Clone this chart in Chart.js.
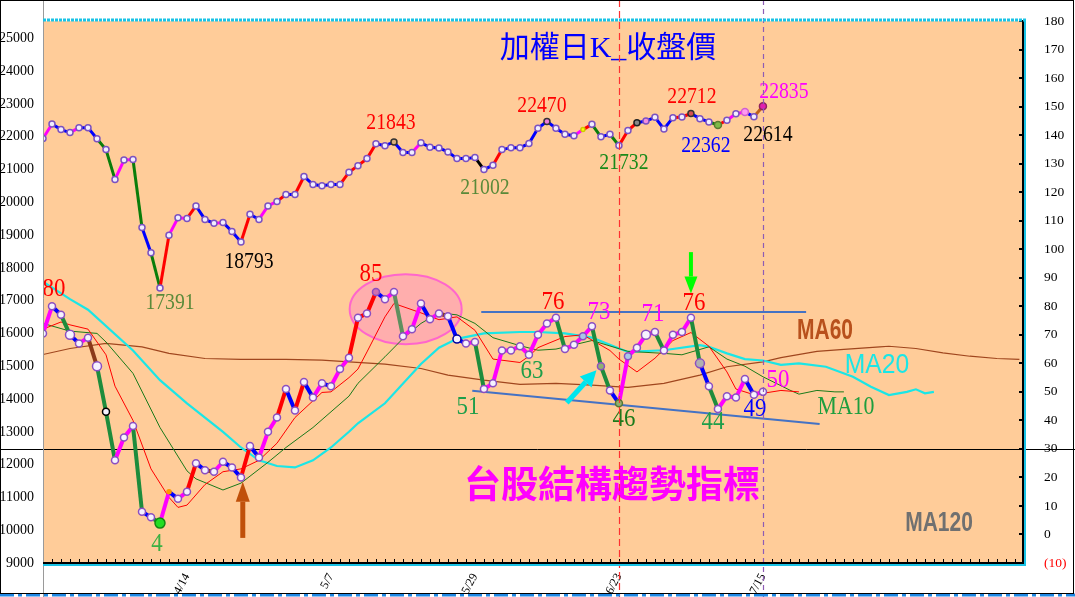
<!DOCTYPE html>
<html>
<head>
<meta charset="utf-8">
<script src="https://cdn.jsdelivr.net/npm/chart.js@4.4.1/dist/chart.umd.min.js"></script>
<style>
  body { margin: 0; background: #fff; }
  canvas { display: block; }
</style>
</head>
<body>
<canvas id="chart" width="1075" height="597"></canvas>
<script>
// TAIEX daily close, 3/19 .. 7/15 (one value per trading day)
const closes = [21950, 22390, 22220, 22130, 22280, 22280, 21940, 21610, 20700, 21290,
  21310, 19232, 18460, 17391, 19000, 19529, 19510, 19890, 19480, 19360,
  19390, 19110, 18793, 19640, 19480, 19890, 20030, 20240, 20240, 20790,
  20545, 20505, 20545, 20545, 20920, 21120, 21335, 21790, 21730, 21843,
  21520, 21520, 21820, 21680, 21660, 21540, 21335, 21335, 21370, 21002,
  21135, 21610, 21670, 21670, 21795, 22260, 22470, 22260, 22080, 22035,
  22220, 22380, 22000, 22080, 21732, 22190, 22430, 22480, 22595, 22240,
  22585, 22605, 22712, 22555, 22455, 22362, 22505, 22705, 22755, 22614,
  22930];

// structure trend indicator (right axis)
const trend = [70.5, 80, 77, 70, 67, 69, 59, 43, 26, 34,
  38, 8, 6, 4, 15, 12.5, 15, 25, 22.5, 22,
  25.5, 23.5, 20, 31, 27, 36, 41, 51, 43.5, 53.5,
  48, 53, 52, 58, 62, 76, 77.5, 85, 82.5, 85,
  69.5, 72, 81, 75.5, 77.5, 76.5, 68.5, 67, 67.5, 51,
  53, 64.5, 64.5, 66, 63, 70, 74, 76, 65, 66.5,
  69.5, 73, 59, 50.5, 46, 62.5, 65.5, 70, 71, 64.5,
  70, 71, 76, 60, 52, 44, 48.5, 48, 54.5, 49,
  50];

// moving averages of the indicator (read at the day index given)
const ma5Day = [0, 2, 3, 5, 7, 8, 10, 12, 14, 15, 16, 18, 20, 22, 24, 26, 28, 31, 32, 34,
  35, 36, 38, 39, 42, 44, 46, 48, 50, 53, 54, 55, 58, 60, 63, 64, 66, 68, 70, 72,
  74, 76, 77, 79, 82, 84];
const ma5Val = [72, 74.5, 73.5, 72, 63, 52, 40, 23, 13, 9.5, 10.3, 17.5, 22, 23, 26, 32, 41, 49.8, 50, 55,
  58, 64, 76.3, 81, 77.7, 75.3, 76.3, 71.6, 61.5, 60.3, 62.5, 65.5, 69.4, 70, 64.5, 61.5, 57, 61.8, 68, 70.8,
  66, 57, 51, 49, 50.5, 50];

const ma10Day = [0, 3, 6, 7, 10, 13, 16, 17, 20, 22, 25, 27, 30, 34, 35, 38, 40, 42, 44, 46,
  48, 50, 53, 55, 57, 61, 65, 69, 71, 74, 76, 78, 80, 83, 84, 86, 88, 89];
const ma10Val = [74, 71.3, 70.5, 67.5, 56.5, 37.5, 22.3, 19.5, 15.6, 18, 25.3, 30.5, 37.5, 48.5, 53, 62.3, 68.7, 74, 77.7, 77,
  74, 69, 66.2, 64.6, 65, 68, 64.2, 63.5, 63, 65.8, 61.5, 59, 55.3, 50.6, 49.2, 50.5, 50, 50];

const ma20Day = [0, 3, 5, 10, 13, 16, 20, 22, 24, 26, 28, 30, 32, 34, 35, 38, 42, 44, 46, 49,
  53, 55, 58, 61, 65, 69, 73, 74, 76, 78, 80, 82, 84, 87, 90, 92, 94, 96, 97, 98, 99];
const ma20Val = [88.6, 82.5, 78.8, 64.5, 54.1, 46, 36, 30.5, 26, 24, 23.5, 26, 30.5, 36, 39, 46, 59.8, 65.5, 68.6, 70.5,
  71, 71, 70.5, 69, 64, 64.6, 66.4, 65.8, 63.5, 61.5, 61, 59.5, 60, 58.8, 55.3, 51.8, 48.9, 50, 50.9, 49.5, 50];

const ma60Day = [0, 3, 7, 11, 14, 18, 22, 27, 31, 34, 38, 42, 45, 49, 53, 57, 61, 65, 69, 73,
  76, 80, 82, 86, 89, 93, 94, 97, 100, 103, 106, 108.5];
const ma60Val = [63.1, 65.2, 67, 65.8, 63.5, 61.7, 61.4, 61.4, 61.1, 60.5, 59.7, 58.2, 55.9, 54.1, 52.6, 53, 52.4, 51.6, 53, 55.9,
  58.8, 60.5, 62, 64.2, 64.9, 65.8, 66, 65.2, 63.7, 62.5, 61.7, 61.4];

// hand drawn channel lines
const topLineDay = [48.7, 84.8];
const topLineVal = [78, 78];
const lowLineDay = [47.7, 86.3];
const lowLineVal = [50.4, 38.7];

// axis ticks
const dateTickDay = [16, 32, 48, 64, 80];
const dateTickText = ["4/14", "5/7", "5/29", "6/23", "7/15"];
const priceTicks = [9000, 10000, 11000, 12000, 13000, 14000, 15000, 16000, 17000,
  18000, 19000, 20000, 21000, 22000, 23000, 24000, 25000];
const trendTicks = [-10, 0, 10, 20, 30, 40, 50, 60, 70, 80, 90, 100, 110, 120, 130, 140, 150, 160, 170, 180];

// colour of each segment (m magenta, b blue, g green, r red, k black, n brown, o olive)
const priceSeg = "mbbmbbggmm" + "gbgrmmrbbm" + "bbrbmmrbrb" + "bbbrrrrbbb" +
  "bmbbbbbbkb" + "rbbbbbbbbm" + "rgbgrrbbbb" + "rrbbgrmmbn";
const trendSeg = "mbgbmnggmm" + "gbgmbmrbnm" + "bbrbmmrbrb" + "mbmmrrrbmo" +
  "mmbmnbbmgm" + "mmmmmmmgmm" + "mggbmmmmgm" + "mmgbgmmmbm";

const priceColors = { m: "#FF00FF", b: "#0000FF", g: "#0A7D0A", r: "#FF0000", k: "#000000", n: "#C0601A" };
const trendColors = { m: "#FF00FF", b: "#0000FF", g: "#1E8C3C", r: "#FF0000", k: "#000000", n: "#8B3A1A", o: "#5F8F5F" };

function toPoints(days, vals) {
  return vals.map((v, i) => ({ x: days[i], y: v }));
}

function pointStyles(count, base, special) {
  const bg = [], bd = [], rad = [];
  for (let i = 0; i < count; i++) {
    const s = special[i] || {};
    bg.push(s.bg || base.bg);
    bd.push(s.bd || base.bd);
    rad.push(s.r || base.r);
  }
  return { bg, bd, rad };
}

const pricePts = pointStyles(closes.length, { bg: "#F2EEFF", bd: "#7B52C1", r: 3 }, {
  39: { bg: "#D9B07A", bd: "#333" }, 56: { bg: "#F07ADC", bd: "#333" },
  60: { bg: "#FFFF00", bd: "#CCCC00", r: 2 }, 66: { bg: "#888", bd: "#222" },
  67: { bg: "#F28FE0" }, 72: { bg: "#D85050", bd: "#333" },
  75: { bg: "#7DBA48", bd: "#5A7A30", r: 3.5 }, 78: { bg: "#FF99F0", bd: "#D060D0", r: 3.5 },
  80: { bg: "#E020B0", bd: "#902060", r: 3.5 }
});

const trendPts = pointStyles(trend.length, { bg: "#F6F2FF", bd: "#8B4FC1", r: 3.5 }, {
  3: { r: 4.5 }, 6: { r: 4.5 }, 7: { bd: "#000" }, 13: { bg: "#22DD22", bd: "#118811", r: 5 },
  14: { bg: "#FF9900", bd: "#FF9900", r: 2 }, 37: { bg: "#D070B0" }, 46: { bd: "#0000A0", r: 4 },
  60: { bg: "#A8C8E8" }, 62: { bg: "#90B070" }, 64: { bg: "#90B070", bd: "#557733" },
  65: { bg: "#A8C8E8" }, 67: { r: 4.5 }, 73: { bg: "#B0B0B0", r: 4.5 }
});

// text notes hung on points: [dataset, index, text, colour, dx, dy]
const notes = [
  [0, 13, "17391", "#5A8A3A", 10, 15], [0, 22, "18793", "#000000", 8, 20],
  [0, 39, "21843", "#FF0000", -3, -19], [0, 49, "21002", "#5A8A3A", 1, 18],
  [0, 56, "22470", "#FF0000", -5, -16], [0, 64, "21732", "#1A8A1A", 5, 17],
  [0, 72, "22712", "#FF0000", 1, -17], [0, 75, "22362", "#0000FF", -12, 21],
  [0, 79, "22614", "#000000", 14, 18], [0, 80, "22835", "#FF00FF", 21, -15],
  [1, 1, "80", "#FF0000", 2, -17], [1, 13, "4", "#3CB043", -3, 21],
  [1, 37, "85", "#FF0000", -5, -18], [1, 57, "76", "#FF0000", -3, -16],
  [1, 61, "73", "#FF00FF", 7, -14], [1, 68, "71", "#FF00FF", -2, -18],
  [1, 72, "76", "#FF0000", 3, -15], [1, 54, "63", "#1E9E4A", 3, 16],
  [1, 49, "51", "#1E9E4A", -16, 18], [1, 64, "46", "#1A7A1A", 5, 16],
  [1, 75, "44", "#1E9E4A", -5, 13], [1, 79, "49", "#0000FF", 1, 14],
  [1, 80, "50", "#FF00FF", 15, -12]
];

function drawText(ctx, s, x, y, font, color, sx) {
  ctx.save();
  ctx.translate(x, y);
  ctx.scale(sx || 1, 1);
  ctx.font = font;
  ctx.fillStyle = color;
  ctx.textAlign = "center";
  ctx.textBaseline = "middle";
  ctx.fillText(s, 0, 0);
  ctx.restore();
}

function drawArrow(ctx, x1, y1, x2, y2, color, w, hl, hw) {
  const a = Math.atan2(y2 - y1, x2 - x1);
  const bx = x2 - Math.cos(a) * hl, by = y2 - Math.sin(a) * hl;
  ctx.save();
  ctx.strokeStyle = color;
  ctx.fillStyle = color;
  ctx.lineWidth = w;
  ctx.beginPath();
  ctx.moveTo(x1, y1);
  ctx.lineTo(bx, by);
  ctx.stroke();
  ctx.beginPath();
  ctx.moveTo(x2, y2);
  ctx.lineTo(bx + Math.sin(a) * hw / 2, by - Math.cos(a) * hw / 2);
  ctx.lineTo(bx - Math.sin(a) * hw / 2, by + Math.cos(a) * hw / 2);
  ctx.closePath();
  ctx.fill();
  ctx.restore();
}

const decor = {
  id: "decor",
  beforeDraw(chart) {
    const { ctx, chartArea: a } = chart;
    ctx.save();
    ctx.fillStyle = "#FFFFFF";
    ctx.fillRect(0, 0, chart.width, chart.height);
    ctx.fillStyle = "#FFCC99";
    ctx.fillRect(a.left, a.top, a.right - a.left, a.bottom - a.top);
    ctx.restore();
  },
  beforeDatasetsDraw(chart) {
    const { ctx, chartArea: a, scales } = chart;
    const x = scales.x, y2 = scales.y2;
    ctx.save();
    // pink ellipse round the 85 top
    ctx.beginPath();
    ctx.ellipse(x.getPixelForValue(40.3), y2.getPixelForValue(79), 56, 35, 0, 0, Math.PI * 2);
    ctx.fillStyle = "rgba(255,150,190,0.55)";
    ctx.fill();
    ctx.strokeStyle = "#FF66CC";
    ctx.lineWidth = 2;
    ctx.stroke();
    // level 30 line across the whole picture
    const y30 = Math.round(y2.getPixelForValue(30)) + 0.5;
    ctx.beginPath();
    ctx.moveTo(0, y30);
    ctx.lineTo(chart.width, y30);
    ctx.strokeStyle = "#000";
    ctx.lineWidth = 1;
    ctx.stroke();
    // small ticks
    ctx.strokeStyle = "#000";
    ctx.lineWidth = 1;
    for (let d = 0; d <= 108; d++) {
      const px = Math.round(x.getPixelForValue(d)) + 0.5;
      ctx.beginPath();
      ctx.moveTo(px, a.bottom);
      ctx.lineTo(px, a.bottom - 4);
      ctx.stroke();
    }
    ctx.lineWidth = 2;
    trendTicks.forEach((v) => {
      const py = Math.round(y2.getPixelForValue(v));
      ctx.beginPath();
      ctx.moveTo(a.right, py);
      ctx.lineTo(a.right - 4, py);
      ctx.stroke();
    });
    ctx.restore();
  },
  afterDatasetsDraw(chart) {
    const { ctx, chartArea: a, scales } = chart;
    const x = scales.x, y2 = scales.y2;
    ctx.save();
    ctx.beginPath();
    ctx.rect(a.left, a.top, a.right - a.left, a.bottom - a.top);
    ctx.clip();
    notes.forEach(([ds, i, s, c, dx, dy]) => {
      const p = chart.getDatasetMeta(ds).data[i];
      const big = s.length < 3;
      drawText(ctx, s, p.x + dx, p.y + dy, (big ? 26 : 24) + 'px "Liberation Serif"', c, big ? 0.88 : 0.82);
    });
    drawText(ctx, "加權日K_收盤價", 608, 49, '30px "Liberation Serif", "Noto Sans CJK TC"', "#0000FF", 1);
    drawText(ctx, "台股結構趨勢指標", 612, 484, 'bold 37px "Noto Sans CJK TC"', "#FF00FF", 1);
    drawText(ctx, "MA60", 825, 331, 'bold 30px "Liberation Sans"', "#B8501C", 0.7);
    drawText(ctx, "MA20", 877, 365, '28px "Liberation Sans"', "#1AE6E6", 0.88);
    drawText(ctx, "MA10", 846, 407, '26px "Liberation Serif"', "#1E9E3E", 0.84);
    drawText(ctx, "MA120", 939, 523, 'bold 28px "Liberation Sans"', "#707070", 0.75);
    drawArrow(ctx, x.getPixelForValue(72), y2.getPixelForValue(99), x.getPixelForValue(72), y2.getPixelForValue(84.5), "#00FF00", 4, 17, 13);
    drawArrow(ctx, x.getPixelForValue(58.2), y2.getPixelForValue(46.2), x.getPixelForValue(61.5), y2.getPixelForValue(57.6), "#00E5EE", 5, 16, 16);
    drawArrow(ctx, x.getPixelForValue(22.2), y2.getPixelForValue(-1.2), x.getPixelForValue(22.2), y2.getPixelForValue(18.5), "#C0500A", 5, 20, 14);
    ctx.restore();
  },
  afterDraw(chart) {
    const { ctx, chartArea: a, scales } = chart;
    const x = scales.x;
    ctx.save();
    // date markers
    [[64, "#FF3030", [7, 4]], [80, "#8E5CB5", [5, 4]]].forEach(([d, c, dash]) => {
      const px = Math.round(x.getPixelForValue(d)) + 0.5;
      ctx.beginPath();
      ctx.setLineDash(dash);
      ctx.moveTo(px, 0);
      ctx.lineTo(px, chart.height);
      ctx.strokeStyle = c;
      ctx.lineWidth = 1.2;
      ctx.stroke();
    });
    ctx.setLineDash([]);
    // frame of the plot
    ctx.strokeStyle = "#9A9A9A";
    ctx.lineWidth = 1;
    ctx.beginPath();
    ctx.moveTo(a.left + 0.5, 0);
    ctx.lineTo(a.left + 0.5, chart.height);
    ctx.stroke();
    ctx.strokeStyle = "#000";
    ctx.lineWidth = 2;
    ctx.beginPath();
    ctx.moveTo(a.left, a.bottom);
    ctx.lineTo(a.right, a.bottom);
    ctx.lineTo(a.right, a.top);
    ctx.stroke();
    ctx.strokeStyle = "#19C3E6";
    ctx.lineWidth = 2;
    ctx.beginPath();
    ctx.moveTo(a.left, a.bottom + 2);
    ctx.lineTo(a.right + 2, a.bottom + 2);
    ctx.lineTo(a.right + 2, a.top);
    ctx.stroke();
    ctx.lineWidth = 3;
    ctx.setLineDash([3, 1]);
    ctx.beginPath();
    ctx.moveTo(a.left, a.top - 1);
    ctx.lineTo(a.right + 3, a.top - 1);
    ctx.stroke();
    // outer border
    ctx.strokeStyle = "#1E88E5";
    ctx.setLineDash([14, 4, 4, 4]);
    ctx.beginPath();
    ctx.moveTo(0, chart.height - 2);
    ctx.lineTo(chart.width, chart.height - 2);
    ctx.stroke();
    ctx.setLineDash([]);
    ctx.strokeStyle = "#000";
    ctx.lineWidth = 1;
    ctx.strokeRect(0.5, 0.5, chart.width - 2, chart.height - 4);
    ctx.restore();
  }
};

function lineSet(data, color, width, axis) {
  return {
    data: data, yAxisID: axis || "y2", borderColor: color, borderWidth: width,
    pointRadius: 0, tension: 0, fill: false
  };
}

const ctx = document.getElementById("chart").getContext("2d");

new Chart(ctx, {
  type: "line",
  data: {
    datasets: [
      {
        data: closes.map((v, i) => ({ x: i, y: v })),
        yAxisID: "y",
        borderWidth: 3,
        segment: { borderColor: (c) => priceColors[priceSeg[c.p0DataIndex]] },
        pointRadius: pricePts.rad,
        pointBackgroundColor: pricePts.bg,
        pointBorderColor: pricePts.bd,
        pointBorderWidth: 1.5,
        tension: 0
      },
      {
        data: trend.map((v, i) => ({ x: i, y: v })),
        yAxisID: "y2",
        borderWidth: 4,
        segment: { borderColor: (c) => trendColors[trendSeg[c.p0DataIndex]] },
        pointRadius: trendPts.rad,
        pointBackgroundColor: trendPts.bg,
        pointBorderColor: trendPts.bd,
        pointBorderWidth: 1.5,
        tension: 0
      },
      lineSet(toPoints(topLineDay, topLineVal), "#4472C4", 2),
      lineSet(toPoints(lowLineDay, lowLineVal), "#4472C4", 2),
      lineSet(toPoints(ma5Day, ma5Val), "#FF0000", 1),
      lineSet(toPoints(ma10Day, ma10Val), "#1A7A1A", 1),
      lineSet(toPoints(ma20Day, ma20Val), "#1AE6E6", 2.2),
      lineSet(toPoints(ma60Day, ma60Val), "#A0461E", 1.2)
    ]
  },
  options: {
    responsive: false,
    animation: false,
    devicePixelRatio: 1,
    layout: { padding: { top: 20, left: 0, right: 0, bottom: 0 } },
    plugins: { legend: { display: false }, tooltip: { enabled: false } },
    scales: {
      x: {
        type: "linear",
        min: 0,
        max: 108.9,
        afterBuildTicks: (s) => { s.ticks = dateTickDay.map((v) => ({ value: v })); },
        afterFit: (s) => { s.height = 34; },
        grid: { display: false },
        border: { display: false },
        ticks: {
          autoSkip: false,
          minRotation: 62,
          maxRotation: 62,
          padding: 0,
          color: "#000",
          font: { family: "Liberation Serif", size: 12 },
          callback: (v, i) => dateTickText[i]
        }
      },
      y: {
        position: "left",
        min: 9000,
        max: 25530,
        afterBuildTicks: (s) => { s.ticks = priceTicks.map((v) => ({ value: v })); },
        afterFit: (s) => { s.width = 43; },
        grid: { display: false },
        border: { display: false },
        ticks: {
          padding: 1,
          color: "#000",
          font: { family: "Liberation Serif", size: 14 },
          callback: (v) => String(v)
        }
      },
      y2: {
        position: "right",
        min: -10,
        max: 180,
        afterBuildTicks: (s) => { s.ticks = trendTicks.map((v) => ({ value: v })); },
        afterFit: (s) => { s.width = 52; },
        grid: { display: false },
        border: { display: false },
        ticks: {
          padding: 13,
          color: (c) => (c.tick && c.tick.value < 0 ? "#FF0000" : "#000"),
          font: { family: "Liberation Serif", size: 13.5 },
          callback: (v) => (v < 0 ? "(" + (-v) + ")" : String(v))
        }
      }
    }
  },
  plugins: [decor]
});
</script>
</body>
</html>
